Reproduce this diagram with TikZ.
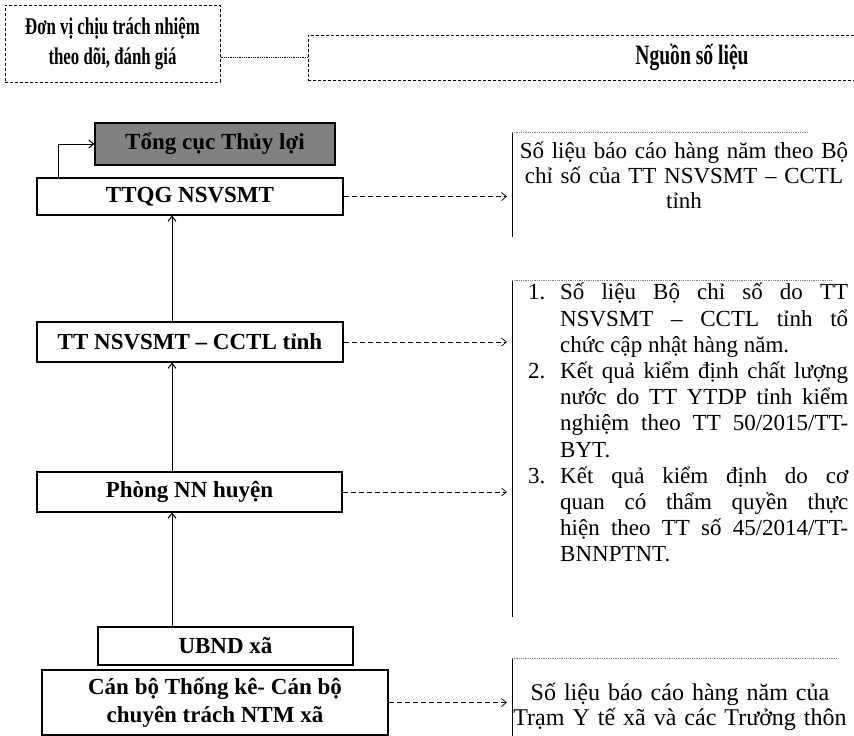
\documentclass[tikz,border=0pt]{standalone}
\usepackage{fontspec}
\setmainfont{Liberation Serif}
\newfontfamily\headfont[FakeStretch=0.7]{Liberation Serif}
\usetikzlibrary{arrows.meta}

\tikzset{
  unitbox/.style={draw=black, line width=1.1pt, fill=white, inner sep=0pt,
    font=\fontsize{23}{28}\selectfont\bfseries, align=center},
  headbox/.style={draw=black, line width=1pt, densely dashed, inner sep=0pt,
    font=\headfont\fontsize{24}{30}\selectfont\bfseries, align=center},
  srcframe/.style={draw=none, inner sep=0pt, anchor=north west},
  srctext/.style={inner sep=0pt, font=\fontsize{23}{25}\selectfont},
  upflow/.style={-{Straight Barb[length=5pt, width=8pt]}, line width=1pt},
  feed/.style={-{Straight Barb[length=5pt, width=8pt]}, dash pattern=on 5pt off 3pt,
    line width=0.7pt, shorten >=5pt},
}

\begin{document}
\begin{tikzpicture}[x=1pt, y=-1pt]
    \useasboundingbox (0,0) rectangle (854,736);
    % header row
    \node[headbox, minimum width=215pt, minimum height=77pt] (head1) at (112.5,43.5)
        {Đơn vị chịu trách nhiệm\\theo dõi, đánh giá};
    \node[headbox, minimum width=768pt, minimum height=45pt,
          font=\headfont\fontsize{28}{30}\selectfont\bfseries] (head2) at (692,57.5)
        {Nguồn số liệu};
    \draw[densely dotted, line width=0.8pt] (head2.west -| head1.east) -- (head2.west);
    % units
    \node[unitbox, fill=black!50, minimum width=240pt, minimum height=42pt] (tongcuc) at (215,144) {Tổng cục Thủy lợi};
    \node[unitbox, minimum width=306pt, minimum height=37pt] (ttqg) at (190,196.5) {TTQG NSVSMT};
    \node[unitbox, minimum width=306pt, minimum height=40pt] (tinh) at (190,342) {TT NSVSMT – CCTL tỉnh};
    \node[unitbox, minimum width=305pt, minimum height=40pt] (phong) at (189.5,492) {Phòng NN huyện};
    \node[unitbox, minimum width=255pt, minimum height=38pt] (ubnd) at (225.5,646) {UBND xã};
    \node[unitbox, minimum width=346pt, minimum height=65pt] (canbo) at (215,702.5)
        {Cán bộ Thống kê- Cán bộ\\chuyên trách NTM xã};
    \coordinate (spine) at (172,600);
    \coordinate (elbow) at (58,160);
    \draw[upflow] (ubnd.north -| spine) -- (phong.south -| spine);
    \draw[upflow] (phong.north -| spine) -- (tinh.south -| spine);
    \draw[upflow] (tinh.north -| spine) -- (ttqg.south -| spine);
    \draw[upflow] (ttqg.north -| elbow) |- (tongcuc.west);
    % sources
    \node[srcframe, minimum width=295pt, minimum height=105pt] (src1) at (512,132) {};
    \node[srcframe, minimum width=320pt, minimum height=337pt] (src2) at (512,280) {};
    \node[srcframe, minimum width=325pt, minimum height=78pt] (src3) at (512,658) {};
    \foreach \s in {src1,src2,src3} {
        \draw[line width=0.9pt] (\s.north west) -- (\s.south west);
        \draw[densely dotted, gray, line width=0.8pt] (\s.north west) -- (\s.north east);
    }
    \node[srctext, text width=335pt, align=center] (src1txt) at (684,175)
        {Số liệu báo cáo hàng năm theo Bộ\\chỉ số của TT NSVSMT – CCTL\\tỉnh};
    \node[srctext, anchor=north west, text width=320pt, align=justify,
          font=\fontsize{23}{26.2}\selectfont] (src2txt) at (528,283) {%
        \hangindent=32pt\hangafter=1\noindent\makebox[32pt][l]{1.}Số liệu Bộ chỉ số do TT\linebreak
        NSVSMT – CCTL tỉnh tổ\linebreak chức cập nhật hàng năm.\par
        \hangindent=32pt\hangafter=1\noindent\makebox[32pt][l]{2.}Kết quả kiểm định chất lượng\linebreak
        nước do TT YTDP tỉnh kiểm\linebreak nghiệm theo TT 50/2015/TT-\linebreak BYT.\par
        \hangindent=32pt\hangafter=1\noindent\makebox[32pt][l]{3.}Kết quả kiểm định do cơ\linebreak
        quan có thẩm quyền thực\linebreak hiện theo TT số 45/2014/TT-\linebreak BNNPTNT.\par};
    \node[srctext, text width=340pt, align=center, font=\fontsize{24}{25}\selectfont] (src3txt) at (680,707)
        {Số liệu báo cáo hàng năm của\\Trạm Y tế xã và các Trưởng thôn};
    % data flows
    \draw[feed] (ttqg.east) -- (ttqg.east -| src1.west);
    \draw[feed] (tinh.east) -- (tinh.east -| src2.west);
    \draw[feed] (phong.east) -- (phong.east -| src2.west);
    \draw[feed] (canbo.east) -- (canbo.east -| src3.west);
\end{tikzpicture}
\end{document}
